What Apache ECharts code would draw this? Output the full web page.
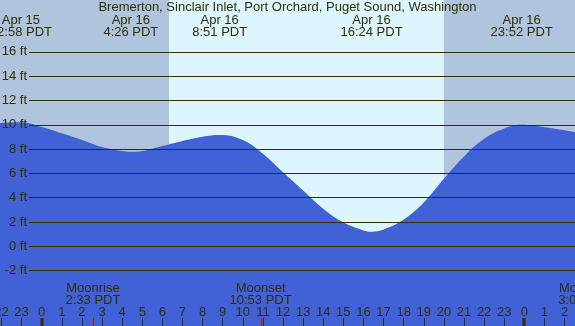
<!DOCTYPE html>
<html>
<head>
<meta charset="utf-8">
<script src="https://cdn.jsdelivr.net/npm/echarts@6/dist/echarts.min.js"></script>
<style>
  html, body { margin: 0; padding: 0; background: #ddf5fe; }
  #chart { width: 575px; height: 326px; }
</style>
</head>
<body>
<div id="chart"></div>
<script>
// hours are counted from midnight starting Apr 16 (negative = Apr 15)
const tideHours = [-2.1, -1.03, 0, 1, 2, 3, 4, 4.43, 5, 6, 7, 8, 8.85, 10, 11, 12, 13, 14, 15, 16, 16.4, 17, 18, 19, 20, 21, 22, 23, 23.87, 25, 26, 26.6]
const tideFeet = [10.15, 10.22, 9.82, 9.3, 8.75, 8.17, 7.84, 7.78, 7.84, 8.25, 8.67, 9.02, 9.16, 8.75, 7.62, 6.1, 4.6, 3.1, 1.97, 1.3, 1.2, 1.38, 2.2, 3.6, 5.55, 7.4, 8.85, 9.7, 10.0, 9.8, 9.55, 9.35]

const tideDays = [15, 16, 16, 16, 16]
const tideTimes = ['22:58', '4:26', '8:51', '16:24', '23:52']

const moonNames = ['Moonrise', 'Moonset', 'Moonrise']
const moonDays = [16, 16, 17]
const moonTimes = ['2:33', '10:53', '3:03']

const sunDays = [16, 16]
const sunTimes = ['6:20', '20:00']   // sunrise, sunset

const midnights = [0, 24]
const feetTicks = [-2, 16]           // labelled range of the height axis

const title = 'Bremerton, Sinclair Inlet, Port Orchard, Puget Sound, Washington'

// ---- layout
const FONT = 'Liberation Sans'
const FS = 13
const INK = '#2f2f00'
const NIGHT = '#b0c4de'
const DAY = '#ddf5fe'
const WATER = '#4161d6'
const H0 = 41.7, PX_H = 20.11      // x of Apr 16 0:00, px per hour
const F0 = 246.3, PX_F = 12.15     // y of 0 ft, px per foot
const X_MIN = -3, X_MAX = 28, Y_MIN = -8, Y_MAX = 22
const W = 575, HGT = 326

const toHour = (day, t) => {
  const [h, m] = t.split(':').map(Number)
  return (day - 16) * 24 + h + m / 60
}
const tideAt = tideDays.map((d, i) => toHour(d, tideTimes[i]))
const moonAt = moonDays.map((d, i) => toHour(d, moonTimes[i]))
const sunrise = toHour(sunDays[0], sunTimes[0])
const sunset = toHour(sunDays[1], sunTimes[1])
const bands = [[X_MIN, sunrise, 1], [sunrise, sunset, 0], [sunset, X_MAX, 1]]

const gLeft = H0 + X_MIN * PX_H
const gRight = W - (H0 + X_MAX * PX_H)

const chart = echarts.init(document.getElementById('chart'), null, {renderer: 'canvas'})

const textStyle = {fontFamily: FONT, fontSize: FS, fill: INK, align: 'center', verticalAlign: 'top', lineHeight: 12.4}

chart.setOption({
  animation: false,
  backgroundColor: DAY,
  title: {
    text: title, left: 'center', top: 0, padding: 0,
    textStyle: {fontFamily: FONT, fontSize: FS, fontWeight: 'normal', color: INK, lineHeight: 14}
  },
  grid: [
    // tide area
    {left: gLeft, right: gRight, top: F0 - Y_MAX * PX_F, bottom: HGT - (F0 - Y_MIN * PX_F), outerBoundsMode: 'none'},
    // height grid lines + labels
    {left: 29, right: 0, top: F0 - feetTicks[1] * PX_F, bottom: HGT - (F0 - feetTicks[0] * PX_F), outerBoundsMode: 'none'},
    // whole picture: bands, hour axis, labels
    {left: gLeft, right: gRight, top: 0, bottom: 0, outerBoundsMode: 'none'}
  ],
  xAxis: [
    {gridIndex: 0, type: 'value', min: X_MIN, max: X_MAX, show: false},
    {gridIndex: 1, type: 'value', min: 0, max: 1, show: false},
    {
      gridIndex: 2, type: 'value', min: X_MIN, max: X_MAX, interval: 1, z: 5,
      axisLine: {show: false},
      splitLine: {show: false},
      axisTick: {show: true, inside: true, length: 8, lineStyle: {color: INK, width: 1}},
      axisLabel: {
        inside: true, margin: 7, color: INK, fontFamily: FONT, fontSize: FS,
        showMinLabel: true, showMaxLabel: true, hideOverlap: false,
        formatter: v => String(((v % 24) + 24) % 24)
      }
    }
  ],
  yAxis: [
    {gridIndex: 0, type: 'value', min: Y_MIN, max: Y_MAX, show: false},
    {
      gridIndex: 1, type: 'value', min: feetTicks[0], max: feetTicks[1], interval: 2, z: 5,
      axisLine: {show: false},
      axisTick: {show: false},
      splitLine: {show: true, lineStyle: {color: INK, width: 1}},
      axisLabel: {margin: 2, color: INK, fontFamily: FONT, fontSize: FS, formatter: v => v + ' ft'}
    },
    {gridIndex: 2, type: 'value', min: 0, max: 1, show: false}
  ],
  series: [
    {
      // night / day background
      type: 'custom', xAxisIndex: 2, yAxisIndex: 2, z: 0, silent: true,
      data: bands,
      renderItem: (params, api) => {
        const a = api.coord([api.value(0), 0])
        const b = api.coord([api.value(1), 1])
        return {
          type: 'rect',
          shape: {x: a[0], y: b[1], width: b[0] - a[0], height: a[1] - b[1]},
          style: {fill: api.value(2) ? NIGHT : DAY}
        }
      }
    },
    {
      type: 'line', xAxisIndex: 0, yAxisIndex: 0, z: 2,
      data: tideHours.map((h, i) => [h, tideFeet[i]]),
      smooth: 0.4,
      showSymbol: false,
      lineStyle: {width: 0},
      areaStyle: {color: WATER, opacity: 1, origin: 'start'}
    },
    {
      // high / low tide labels along the top
      type: 'custom', xAxisIndex: 2, yAxisIndex: 2, z: 6, silent: true,
      data: tideAt.map(h => [h, 1]),
      renderItem: (params, api) => {
        const p = api.coord([api.value(0), 1])
        const i = params.dataIndex
        return {
          type: 'text', x: p[0], y: p[1] + 14,
          style: Object.assign({text: 'Apr ' + tideDays[i] + '\n' + tideTimes[i] + ' PDT'}, textStyle)
        }
      }
    },
    {
      // moon labels and red ticks at the bottom
      type: 'custom', xAxisIndex: 2, yAxisIndex: 2, z: 6, silent: true,
      data: moonAt.map(h => [h, 0]),
      renderItem: (params, api) => {
        const p = api.coord([api.value(0), 0])
        const i = params.dataIndex
        return {
          type: 'group',
          children: [
            {
              type: 'text', x: p[0], y: p[1] - 44,
              style: Object.assign({text: moonNames[i] + '\n' + moonTimes[i] + ' PDT'}, textStyle)
            },
            {
              type: 'line',
              shape: {x1: Math.round(p[0]) + 0.5, y1: p[1] - 8, x2: Math.round(p[0]) + 0.5, y2: p[1]},
              style: {stroke: '#e00000', lineWidth: 1}
            }
          ]
        }
      }
    },
    {
      // heavy midnight ticks
      type: 'custom', xAxisIndex: 2, yAxisIndex: 2, z: 6, silent: true,
      data: midnights.map(h => [h, 0]),
      renderItem: (params, api) => {
        const p = api.coord([api.value(0), 0])
        return {
          type: 'rect',
          shape: {x: Math.round(p[0]) - 1.5, y: p[1] - 8, width: 3, height: 8},
          style: {fill: INK}
        }
      }
    }
  ]
})
</script>
</body>
</html>
